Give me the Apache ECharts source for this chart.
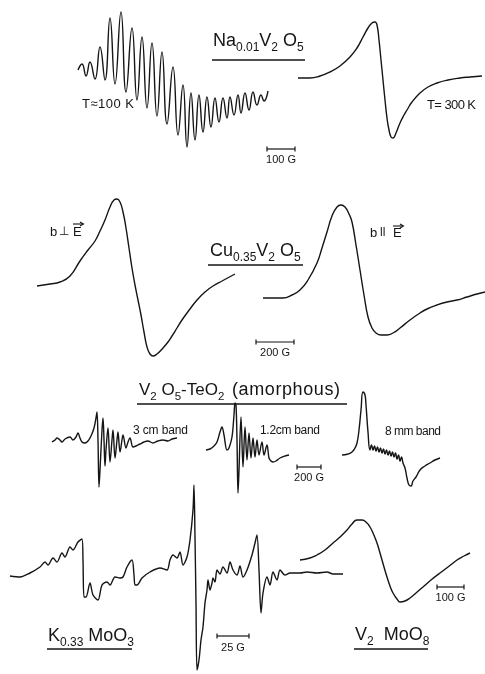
<!DOCTYPE html>
<html><head><meta charset="utf-8">
<script src="https://cdn.jsdelivr.net/npm/echarts@6/dist/echarts.min.js"></script>
<style>html,body{margin:0;padding:0;background:#fff}#c{width:485px;height:674px}</style>
</head><body><div id="c"></div>
<script>
// EPR derivative spectra: [field offset (arb.), signal (arb., baseline = 0)]
const na100K = [[0,0],[4,6],[8,-6],[12,8],[17,-9],[22,23],[27,-10],[32,52],[37,-14],[43,58],[48,-22],[54,42],[59,-30],[64,33],[69,-38],[74,27],[79,-46],[84,18],[89,-54],[95,3],[100,-65],[105,-15],[109,-77],[113,-23],[117,-70],[121,-25],[125,-62],[129,-27],[133,-57],[137,-28],[141,-52],[145,-28],[149,-48],[152,-27],[156,-45],[160,-25],[163,-43],[167,-23],[171,-40],[175,-22],[179,-35],[183,-25],[186,-31],[190,-21]];
const na300K = [[0,0],[12,0],[22,2],[32,6],[42,12],[52,21],[59,30],[65,41],[70,50],[74,55],[77,56],[79,53],[81,38],[83,18],[85,-2],[87,-22],[89,-40],[91,-52],[93,-59],[95,-60],[98,-55],[102,-45],[106,-37],[109,-32],[114,-24],[122,-15],[130,-9],[139,-5],[150,-2],[162,0],[172,1],[184,2]];
const cuPerp = [[0,0],[13,2],[23,4],[33,10],[43,25],[51,36],[58,45],[63,55],[68,66],[73,79],[77,86],[80,87],[83,84],[86,74],[89,58],[92,38],[95,18],[98,1],[101,-14],[104,-29],[107,-46],[110,-61],[113,-68],[116,-70],[120,-68],[126,-62],[131,-56],[135,-50],[140,-42],[145,-34],[153,-23],[160,-14],[168,-6],[176,0],[185,5],[198,12]];
const cuPar = [[0,0],[12,0],[20,0],[29,3],[37,8],[45,18],[54,35],[59,50],[64,66],[69,82],[74,91],[78,93],[82,91],[86,84],[89,76],[93,53],[97,28],[101,3],[105,-19],[109,-30],[113,-35],[118,-37],[124,-37],[130,-35],[137,-30],[147,-22],[157,-15],[164,-11],[174,-7],[184,-4],[194,-2],[204,1],[214,4],[222,6]];
const teo3cm = [[0,0],[3,2],[5,4],[8,2],[10,0],[13,3],[18,5],[21,2],[24,5],[26,9],[28,4],[30,0],[33,-1],[36,1],[39,6],[42,14],[44,24],[45,30],[46,2],[47,-45],[48,-28],[50,12],[51,24],[52,2],[53,-24],[54,-8],[56,14],[58,-20],[60,2],[61,12],[63,-16],[65,2],[66,10],[68,-10],[70,2],[71,7],[74,-6],[76,0],[78,4],[81,-5],[84,-4],[88,-2],[92,0],[96,1],[101,-1],[106,1],[111,2],[116,1],[120,3],[125,4]];
const teo12cm = [[0,0],[4,1],[8,4],[11,8],[14,18],[16,23],[18,15],[21,0],[23,2],[26,13],[28,35],[29,47],[30,45],[31,10],[32,-43],[33,-20],[35,33],[37,-17],[39,23],[41,-10],[43,17],[45,-8],[47,12],[49,-7],[51,10],[53,-5],[56,8],[58,-5],[61,5],[63,-8],[65,-11],[67,-12],[70,-11],[74,-8],[79,-6],[83,-5]];
const teo8mm = [[0,0],[6,1],[10,3],[13,7],[15,12],[17,25],[19,45],[21,63],[23,60],[24,50],[26,23],[28,5],[29.5,10],[31,5],[32.5,9],[34,4],[35.5,8],[37,3],[38.5,7],[40,2],[41.5,6],[43,1],[44.5,5],[46,0],[47.5,4],[49,-1],[50.5,3],[52,-2],[53.5,2],[55,-4],[56.5,0],[58,-6],[59.5,-2],[61,-8],[63,-13],[65,-23],[67,-30],[69,-31],[71,-26],[74,-22],[78,-15],[83,-11],[88,-8],[93,-5],[98,-3]];
const kMoO3 = [[0,0],[10,-1],[20,3],[30,9],[35,14],[38,11],[43,18],[47,14],[52,23],[55,19],[60,29],[63,26],[68,34],[72,37],[73,16],[74,-21],[76,-21],[80,-7],[83,-19],[88,-24],[92,-9],[97,-6],[100,-9],[105,-1],[110,-2],[113,-1],[117,9],[122,16],[124,1],[125,-9],[127,-9],[132,-2],[140,4],[150,8],[157,6],[160,16],[163,21],[167,18],[170,24],[173,11],[177,19],[180,36],[183,66],[184,91],[185,39],[186,-27],[187,-94],[189,-84],[191,-64],[193,-51],[195,-27],[197,-14],[198,-4],[200,-14],[202,-7],[203,-2],[205,-6],[207,6],[210,2],[213,9],[217,3],[220,14],[223,6],[227,1],[230,10],[233,-1],[237,6],[242,21],[245,33],[247,41],[249,6],[251,-37],[253,-17],[257,-1],[260,-9],[263,4],[267,-4],[270,6],[275,1],[280,3],[290,3],[297,4],[307,3],[317,4],[323,2],[333,2]];
const v2MoO8 = [[0,0],[10,2],[17,5],[25,10],[33,17],[40,23],[47,30],[52,36],[57,40],[62,40],[67,37],[70,33],[73,27],[77,17],[80,7],[84,-7],[87,-17],[90,-26],[93,-33],[97,-39],[100,-42],[105,-41],[110,-38],[116,-33],[123,-27],[131,-20],[140,-13],[148,-7],[157,0],[164,4],[170,7]];

const scaleLabels = ['100 G', '200 G', '200 G', '25 G', '100 G'];
const bandLabels = ['3 cm band', '1.2cm band', '8 mm band'];

const INK = '#151515';
const FONT = '"Liberation Sans", Arial, sans-serif';

// panel layout: pixel box; 1 axis unit = 1 px
const panels = [
  {data: na100K, left: 78, top: 5, width: 195, height: 150, yMax: 65, smooth: 0.5},
  {data: na300K, left: 298, top: 15, width: 187, height: 130, yMax: 63, smooth: 0.5},
  {data: cuPerp, left: 37, top: 190, width: 200, height: 175, yMax: 96, smooth: 0.5},
  {data: cuPar, left: 263, top: 195, width: 222, height: 150, yMax: 103, smooth: 0.5},
  {data: teo3cm, left: 52, top: 405, width: 130, height: 90, yMax: 37, smooth: 0.35},
  {data: teo12cm, left: 206, top: 395, width: 90, height: 105, yMax: 55, smooth: 0.35},
  {data: teo8mm, left: 342, top: 385, width: 100, height: 110, yMax: 70, smooth: 0.5},
  {data: kMoO3, left: 10, top: 470, width: 340, height: 204, yMax: 106, smooth: 0.3},
  {data: v2MoO8, left: 300, top: 510, width: 175, height: 100, yMax: 50, smooth: 0.5}
];

const ctx = document.createElement('canvas').getContext('2d');
function tw(t, size) { ctx.font = size + 'px ' + FONT; return ctx.measureText(t).width; }
function txt(t, x, y, size, align) {
  return {type: 'text', x: x, y: y, silent: true,
    style: {text: t, fontSize: size, fontFamily: FONT, fill: INK, align: align || 'left', verticalAlign: 'middle'}};
}
function seg(x1, y1, x2, y2, w) {
  return {type: 'line', silent: true, shape: {x1: x1, y1: y1, x2: x2, y2: y2}, style: {stroke: INK, lineWidth: w || 1.2}};
}
// text whose characters are spread from x to x2
function spaced(t, x, y, size, x2) {
  const chars = Array.from(t); const w = chars.map(c => tw(c, size));
  const total = w.reduce((a, b) => a + b, 0);
  const gap = chars.length > 1 ? (x2 - x - total) / (chars.length - 1) : 0;
  let cx = x;
  return chars.map((c, i) => { const e = txt(c, cx, y, size); cx += w[i] + gap; return e; });
}
// chemical formula with subscripts ('_' prefix)
function chem(parts, x, capMid, main, sub, ul) {
  const els = []; let cx = x;
  parts.forEach(p => {
    const isSub = p[0] === '_'; const t = isSub ? p.slice(1) : p; const s = isSub ? sub : main;
    els.push(txt(t, cx, isSub ? capMid + main * 0.38 : capMid, s));
    cx += tw(t, s);
  });
  if (ul) els.push(seg(ul[0], ul[2], ul[1], ul[2], 1.3));
  return els;
}
function scaleBar(x1, x2, y, label, ly) {
  return [seg(x1, y, x2, y), seg(x1, y - 2.5, x1, y + 2.5), seg(x2, y - 2.5, x2, y + 2.5),
    txt(label, (x1 + x2) / 2, ly, 11, 'center')];
}
function vecE(x, y, ay) {
  return [txt('E', x, y, 13), seg(x, ay, x + 10, ay, 1.1),
    {type: 'polyline', silent: true, shape: {points: [[x + 7, ay - 2], [x + 10.5, ay], [x + 7, ay + 2]]}, style: {stroke: INK, lineWidth: 1.1, fill: null}}];
}

let graphics = [];
graphics = graphics.concat(
  chem(['Na', '_0.01', 'V', '_2', ' O', '_5'], 213, 41, 18, 12, [212, 305, 60]),
  spaced('T\u2248100 K', 82, 104, 13, 134), spaced('T= 300 K', 427, 105, 13, 476),
  scaleBar(267, 295, 149, scaleLabels[0], 160),
  [txt('b', 50, 232, 13), txt('\u22A5', 59, 232, 12)], vecE(73, 232, 224),
  chem(['Cu', '_0.35', 'V', '_2', ' O', '_5'], 210, 251, 18, 12, [208, 303, 265]),
  [txt('b', 370, 233, 13), txt('ll', 380, 233, 12)], vecE(393, 233, 226),
  scaleBar(256, 294, 342, scaleLabels[1], 353),
  chem(['V', '_2', ' O', '_5', '-TeO', '_2'], 139, 390, 17, 11.5, null),
  spaced('(amorphous)', 232, 390, 18, 340),
  [seg(137, 404, 347, 404, 1.3)],
  spaced(bandLabels[0], 133, 431, 12, 188),
  spaced(bandLabels[1], 260, 431, 12, 320),
  spaced(bandLabels[2], 385, 432, 12, 441),
  scaleBar(297, 321, 467, scaleLabels[2], 478),
  chem(['K', '_0.33', ' MoO', '_3'], 48, 636, 18, 12, [47, 132, 649]),
  scaleBar(217, 249, 636, scaleLabels[3], 648),
  chem(['V', '_2', '  MoO', '_8'], 355, 635, 18, 12, [354, 428, 649]),
  scaleBar(437, 464, 587, scaleLabels[4], 598)
);

const option = {
  animation: false,
  backgroundColor: '#fff',
  grid: panels.map(p => ({left: p.left, top: p.top, width: p.width, height: p.height})),
  xAxis: panels.map((p, i) => ({type: 'value', gridIndex: i, min: 0, max: p.width, show: false})),
  yAxis: panels.map((p, i) => ({type: 'value', gridIndex: i, min: p.yMax - p.height, max: p.yMax, show: false})),
  series: panels.map((p, i) => ({
    type: 'line', xAxisIndex: i, yAxisIndex: i, data: p.data, showSymbol: false, smooth: p.smooth,
    silent: true, clip: false, lineStyle: {color: INK, width: 1.4}
  })),
  graphic: graphics
};
const chart = echarts.init(document.getElementById('c'), null, {renderer: 'canvas'});
chart.setOption(option);
</script>
</body></html>
